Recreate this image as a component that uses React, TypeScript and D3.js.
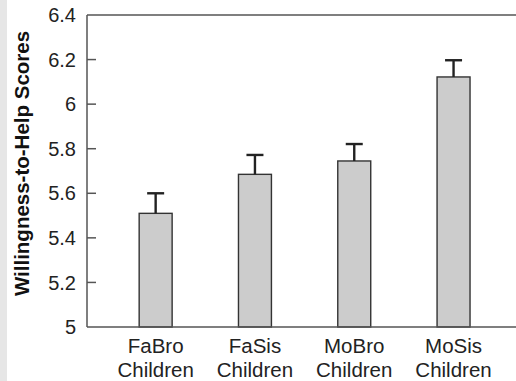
import React from "react";
import * as d3 from "d3";

const categories = ["FaBro|Children", "FaSis|Children", "MoBro|Children", "MoSis|Children"];
const means = [5.51, 5.685, 5.745, 6.122];
const errors = [0.09, 0.087, 0.076, 0.075];
const yTicks = [5, 5.2, 5.4, 5.6, 5.8, 6, 6.2, 6.4];
const yTickLabels = ["5", "5.2", "5.4", "5.6", "5.8", "6", "6.2", "6.4"];
const yTitle = "Willingness-to-Help Scores";

const W = 516;
const H = 381;
const left = 87;
const top = 15;
const bottom = 327;
const font = "'Liberation Sans', Arial, Helvetica, sans-serif";

export default function App() {
  const y = d3.scaleLinear().domain([5, 6.4]).range([bottom, top]);
  const x = d3
    .scaleBand<string>()
    .domain(categories)
    .range([106, 503.2])
    .paddingInner(0.668)
    .paddingOuter(0.334);
  const bw = x.bandwidth();
  const capHalf = 8.5;

  return (
    <svg
      width={W}
      height={H}
      style={{ position: "absolute", left: 0, top: 0, background: "#fff" }}
      fontFamily={font}
    >
      <rect x={0} y={0} width={7} height={H} fill="#e6e6e6" />
      {/* bars */}
      {categories.map((c, i) => {
        const x0 = x(c)!;
        const cx = x0 + bw / 2;
        const yt = y(means[i]);
        const ye = y(means[i] + errors[i]);
        return (
          <g key={c}>
            <rect
              x={x0}
              y={yt}
              width={bw}
              height={bottom - yt}
              fill="#cccccc"
              stroke="#333"
              strokeWidth={1.4}
            />
            <line x1={cx} x2={cx} y1={yt} y2={ye} stroke="#222" strokeWidth={2.4} />
            <line x1={cx - capHalf} x2={cx + capHalf} y1={ye} y2={ye} stroke="#222" strokeWidth={2.4} />
          </g>
        );
      })}
      {/* frame */}
      <line x1={left} x2={W} y1={top} y2={top} stroke="#555" strokeWidth={1.5} />
      <line x1={left} x2={W} y1={bottom} y2={bottom} stroke="#555" strokeWidth={1.5} />
      <line x1={left} x2={left} y1={top} y2={bottom} stroke="#555" strokeWidth={1.5} />
      {/* y ticks */}
      {yTicks.map((t, i) => (
        <g key={t}>
          {i > 0 && i < yTicks.length - 1 && (
            <line x1={left} x2={left + 9} y1={y(t)} y2={y(t)} stroke="#555" strokeWidth={1.5} />
          )}
          <text
            x={76}
            y={y(t)}
            dy="0.36em"
            textAnchor="end"
            fontSize={20}
            fill="#222"
          >
            {yTickLabels[i]}
          </text>
        </g>
      ))}
      {/* x labels */}
      {categories.map((c) => {
        const cx = x(c)! + bw / 2;
        const [l1, l2] = c.split("|");
        return (
          <text key={c} x={cx} textAnchor="middle" fontSize={20.5} fill="#222">
            <tspan x={cx} y={352.5}>{l1}</tspan>
            <tspan x={cx} y={376.7}>{l2}</tspan>
          </text>
        );
      })}
      {/* y title */}
      <text
        transform={`translate(29,163.5) rotate(-90)`}
        textAnchor="middle"
        fontSize={20.5}
        fontWeight="bold"
        fill="#111"
      >
        {yTitle}
      </text>
    </svg>
  );
}
